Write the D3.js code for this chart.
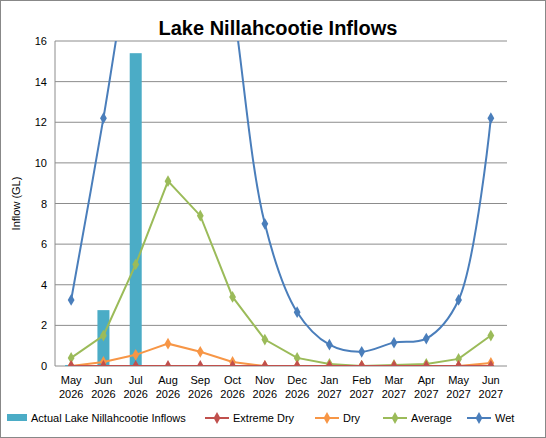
<!DOCTYPE html><html><head><meta charset="utf-8"><script src="https://cdn.jsdelivr.net/npm/d3@7"></script>
<style>body{margin:0;background:#fff}text{font-family:"Liberation Sans",Arial,sans-serif}</style></head><body><svg id="c" width="546" height="438"></svg><script>
const months=["May","Jun","Jul","Aug","Sep","Oct","Nov","Dec","Jan","Feb","Mar","Apr","May","Jun"];
const years=["2026","2026","2026","2026","2026","2026","2026","2026","2027","2027","2027","2027","2027","2027"];
const actual=[0.05,2.75,15.4,null,null,null,null,null,null,null,null,null,null,null];
const extremeDry=[0,0,0,0,0,0,0,0,0,0,0,0,0,0];
const dry=[0,0.2,0.55,1.1,0.7,0.2,0,0,0,0,0,0,0,0.15];
const average=[0.4,1.5,5.0,9.1,7.4,3.4,1.3,0.4,0.1,0,0.05,0.1,0.35,1.5];
const wet=[3.25,12.2,22,30,28,18,7,2.65,1.05,0.7,1.15,1.35,3.25,12.2];
const yTicks=[0,2,4,6,8,10,12,14,16];
const svg=d3.select("#c");
svg.append("rect").attr("x",0.5).attr("y",0.5).attr("width",545).attr("height",437).attr("fill","#fff").attr("stroke","#888");
const L=55,R=507,T=41,B=366;
const idx=d3.range(months.length);
const x=d3.scaleBand().domain(idx).range([L,R]);
const cx=i=>x(i)+x.bandwidth()/2;
const y=d3.scaleLinear().domain([0,16]).range([B,T]);
svg.append("text").attr("x",278).attr("y",35).attr("text-anchor","middle").attr("font-size",20).attr("font-weight","bold").text("Lake Nillahcootie Inflows");
svg.append("g").selectAll("line").data(yTicks).join("line").attr("x1",L).attr("x2",R).attr("y1",d=>y(d)).attr("y2",d=>y(d)).attr("stroke","#8c8c8c");
svg.append("line").attr("x1",L).attr("x2",L).attr("y1",T).attr("y2",B).attr("stroke","#8c8c8c");
svg.append("g").selectAll("text").data(yTicks).join("text").attr("x",L-8).attr("y",d=>y(d)+4).attr("text-anchor","end").attr("font-size",11).text(d=>d);
svg.append("text").attr("transform",`translate(20,${(T+B)/2}) rotate(-90)`).attr("text-anchor","middle").attr("font-size",11).text("Inflow (GL)");
const xl=svg.append("g").selectAll("text").data(idx).join("text").attr("text-anchor","middle").attr("font-size",11);
xl.append("tspan").attr("x",cx).attr("y",B+18).text(i=>months[i]);
xl.append("tspan").attr("x",cx).attr("y",B+32).text(i=>years[i]);
svg.append("defs").append("clipPath").attr("id","clip").append("rect").attr("x",L).attr("y",T).attr("width",R-L).attr("height",B-T);
const g=svg.append("g").attr("clip-path","url(#clip)");
const bw=12;
g.selectAll("rect.b").data(idx.filter(i=>actual[i]!=null)).join("rect").attr("x",i=>cx(i)-bw/2).attr("width",bw).attr("y",i=>y(actual[i])).attr("height",i=>B-y(actual[i])).attr("fill","#4bacc6");
const series=[[wet,"#4a7ebb",true],[average,"#9bbb59",false],[dry,"#f79646",false],[extremeDry,"#c0504d",false]];
const sym=d3.symbol().type(d3.symbolDiamond).size(40);
series.forEach(([v,c,smooth])=>{
 const line=d3.line().x((d,i)=>cx(i)).y(d=>y(d)).curve(smooth?d3.curveCatmullRom.alpha(0.5):d3.curveLinear);
 g.append("path").datum(v).attr("d",line).attr("fill","none").attr("stroke",c).attr("stroke-width",2);
 g.selectAll(null).data(v).join("path").attr("d",sym).attr("transform",(d,i)=>`translate(${cx(i)},${y(d)})`).attr("fill",c);
});
const leg=[["Actual Lake Nillahcootie Inflows","#4bacc6","bar",27],["Extreme Dry","#c0504d","line",229],["Dry","#f79646","line",339],["Average","#9bbb59","line",407],["Wet","#4a7ebb","line",491]];
leg.forEach(([t,c,k,lx])=>{
 const ly=420;
 if(k=="bar")svg.append("rect").attr("x",lx-20).attr("y",ly-6).attr("width",20).attr("height",7).attr("fill",c);
 else{svg.append("line").attr("x1",lx-24).attr("x2",lx).attr("y1",ly-2).attr("y2",ly-2).attr("stroke",c).attr("stroke-width",2);
 svg.append("path").attr("d",sym).attr("transform",`translate(${lx-12},${ly-2})`).attr("fill",c);}
 svg.append("text").attr("x",lx+4).attr("y",ly+2).attr("font-size",11).text(t);
});
</script></body></html>
